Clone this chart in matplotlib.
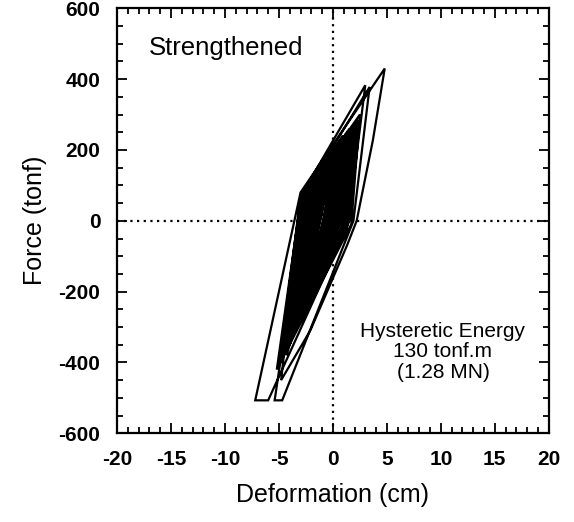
import numpy as np
import matplotlib.pyplot as plt
from matplotlib.ticker import MultipleLocator

plt.rcParams['font.family'] = ['Liberation Sans', 'DejaVu Sans']
plt.rcParams['axes.unicode_minus'] = False

# turning points of the force-deformation record (cm, tonf)
defo = [0.0,
        0.4, -0.3, -1.6, -0.6,
        0.7, -0.2, -2.2, -0.7,
        1.0, -0.2, -2.8, -0.9,
        0.3, -0.7, -3.3, -1.1,
        1.3, -0.1, -3.7, -1.3,
        0.8, -0.5, -3.1, -0.9,
        1.6, 0.1, -4.0, -1.6,
        0.2, -0.8, -3.5, -1.2,
        1.1, -0.3, -3.9, -1.5,
        1.0, 0.5, -3.5, -2.0,
        1.6, 0.9, -4.2, -2.6,
        0.8, 0.2, -3.8, -2.5,
        2.2, 1.5, -4.8, -3.0,
        1.2, 0.6, -4.4, -2.8,
        2.5, 1.7, -5.2, -3.0,
        0.9, 0.3, -3.9, -2.2,
        1.8, 1.1, -4.6, -2.9,
        3.4, 1.9, -4.7, -5.4, -2.6,
        1.4, 0.8, -4.3, -1.9,
        0.6, -0.4, -3.6, -2.3,
        1.5, 0.2, -4.1, -1.4,
        0.5, -0.6, -4.3, -1.8,
        2.0, 1.3, -5.0, -2.6,
        3.0, 1.4, -6.0, -7.2, -3.0,
        4.8, 3.7, 2.2, 1.3, -2.1, -4.8, -3.0,
        1.9, 1.2, -4.9, -3.0,
        1.0, 0.4, -4.0, -2.4,
        0.9, -0.4, -3.4, -1.1,
        2.3, 1.6, -4.5, -2.7,
        1.2, -0.2, -3.3, -1.0,
        1.5, 0.7, -3.7, -2.1,
        0.6, -0.5, -2.6, -0.6,
        0.4, -0.1, -2.8, -1.6, 0.0]
force = [0,
         110, -5, -150, 20,
         160, -15, -200, 35,
         205, -20, -245, 40,
         185, 0, -285, 50,
         235, -25, -320, 55,
         225, -10, -265, 45,
         255, -20, -350, 60,
         200, 10, -300, 50,
         240, -15, -335, 55,
         210, 0, -280, 50,
         250, -20, -330, 55,
         230, 10, -300, 60,
         280, 0, -380, 60,
         245, -10, -350, 70,
         300, -10, -420, 55,
         240, 0, -320, 50,
         265, -25, -360, 65,
         378, 0, -507, -507, 70,
         255, -15, -340, 20,
         225, -40, -290, 55,
         250, -60, -330, 0,
         215, 0, -380, 60,
         275, -20, -400, 90,
         383, -10, -507, -507, 80,
         430, 227, 0, -70, -310, -450, 50,
         270, -10, -390, 70,
         240, 0, -320, 50,
         235, -10, -290, 45,
         285, 5, -370, 65,
         245, -15, -290, 45,
         260, -5, -300, 45,
         220, -5, -230, 30,
         190, 0, -230, 30, 0]

fig, ax = plt.subplots(figsize=(5.74, 5.22), dpi=100)
fig.subplots_adjust(left=0.204, right=0.956, bottom=0.17, top=0.984)

ax.plot(defo, force, color='black', lw=1.6, solid_joinstyle='miter')
ax.axvline(0, color='black', lw=1.6, ls=(0, (1, 2)))
ax.axhline(0, color='black', lw=1.6, ls=(0, (1, 2)))

ax.set_xlim(-20, 20)
ax.set_ylim(-600, 600)
ax.xaxis.set_major_locator(MultipleLocator(5))
ax.xaxis.set_minor_locator(MultipleLocator(1))
ax.yaxis.set_major_locator(MultipleLocator(200))
ax.yaxis.set_minor_locator(MultipleLocator(50))
ax.tick_params(which='both', direction='in', top=True, right=True, width=1.3)
ax.tick_params(which='major', length=7, labelsize=15, pad=12)
ax.tick_params(which='minor', length=4)
for lab in ax.get_xticklabels() + ax.get_yticklabels():
    lab.set_fontweight('bold')
for s in ax.spines.values():
    s.set_linewidth(1.6)

ax.set_xlabel('Deformation (cm)', fontsize=18, labelpad=10)
ax.set_ylabel('Force (tonf)', fontsize=18, labelpad=8)

ax.text(-17.1, 488, 'Strengthened', fontsize=18.5, ha='left', va='center')
ax.text(10.2, -370, 'Hysteretic Energy\n130 tonf.m\n(1.28 MN)', fontsize=15,
        ha='center', va='center', multialignment='center', linespacing=1.1)

plt.savefig('out.png')
